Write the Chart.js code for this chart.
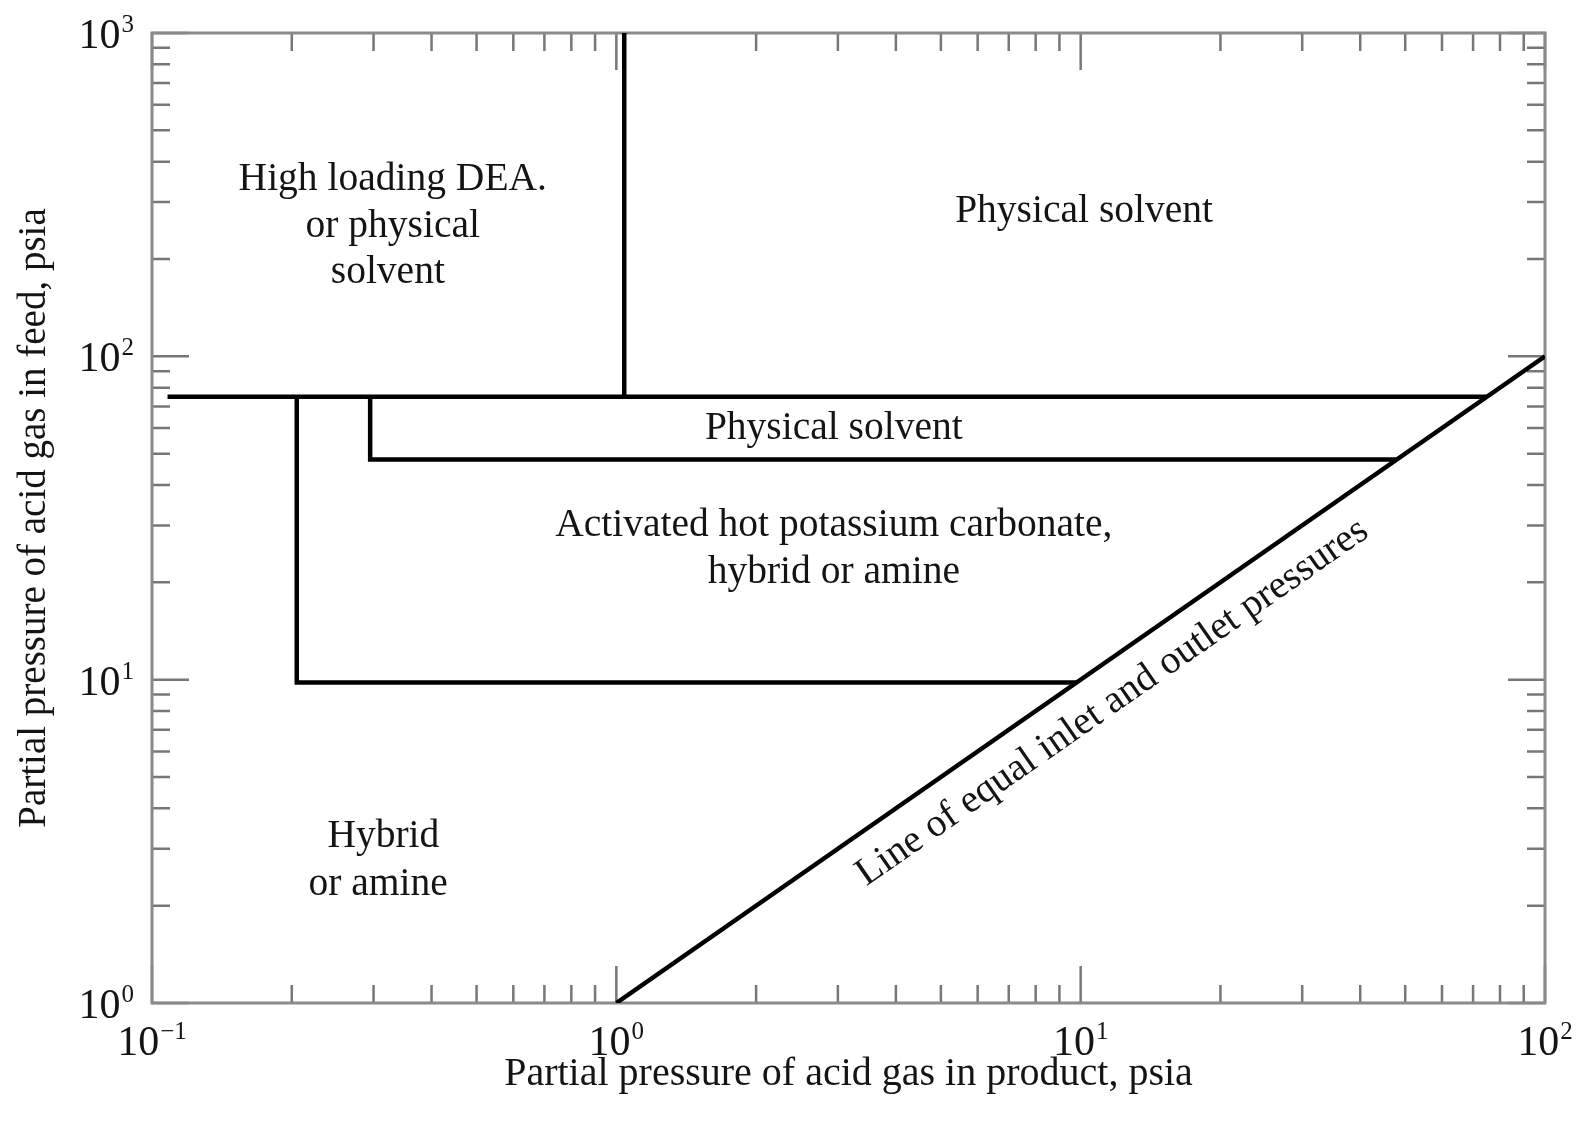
<!DOCTYPE html>
<html>
<head>
<meta charset="utf-8">
<script src="https://cdn.jsdelivr.net/npm/chart.js@4.4.1/dist/chart.umd.min.js"></script>
<style>
  html, body { margin: 0; padding: 0; background: #fff; }
  canvas { display: block; }
</style>
</head>
<body>
<canvas id="chart" width="1581" height="1121"></canvas>
<script>
// axis decades, labelled as 10^n
const xTickValues = [0.1, 1, 10, 100];
const xTickExponents = ['\u22121', '0', '1', '2'];
const yTickValues = [1, 10, 100, 1000];
const yTickExponents = ['0', '1', '2', '3'];

// region boundaries, psia (product on x, feed on y)
const upperBoundaryX = [0.108, 75];
const upperBoundaryY = [75, 75];
const dividerX = [1.04, 1.04];
const dividerY = [75, 1000];
const physicalBandX = [0.295, 0.295, 48];
const physicalBandY = [75, 48, 48];
const amineBoundaryX = [0.205, 0.205, 9.8];
const amineBoundaryY = [75, 9.8, 9.8];
const equalLineX = [1, 100];
const equalLineY = [1, 100];

// region names and where they sit (data coords)
const regionLabels = [
  'High loading DEA.', 'or physical', 'solvent',
  'Physical solvent',
  'Physical solvent',
  'Activated hot potassium carbonate,', 'hybrid or amine',
  'Hybrid', 'or amine'
];
const regionLabelX = [0.33, 0.33, 0.322, 10.17, 2.94, 2.94, 2.94, 0.315, 0.307];
const regionLabelY = [352, 251, 181, 281, 59.8, 29.9, 21.4, 3.26, 2.33];
const diagonalLabel = 'Line of equal inlet and outlet pressures';
const diagonalLabelX = 11.7;
const diagonalLabelY = 8.5;

const FONT = '"Liberation Serif", "Times New Roman", serif';
const TEXT_COLOR = '#141414';

function toPoints(xs, ys) {
  return xs.map((x, i) => ({ x: x, y: ys[i] }));
}

function boundary(xs, ys) {
  return {
    data: toPoints(xs, ys),
    showLine: true,
    borderColor: '#000',
    borderWidth: 4.5,
    pointRadius: 0,
    fill: false,
    tension: 0,
    borderJoinStyle: 'miter'
  };
}

function logSteps(minExp, maxExp) {
  const out = [];
  for (let d = minExp; d < maxExp; d++) {
    for (let k = 1; k <= 9; k++) out.push({ v: k * Math.pow(10, d), major: k === 1 });
  }
  out.push({ v: Math.pow(10, maxExp), major: true });
  return out;
}

// inward ticks on all four sides plus the grey frame
const frameTicks = {
  id: 'frameTicks',
  beforeDatasetsDraw(chart) {
    const { ctx, chartArea: a, scales } = chart;
    ctx.save();
    ctx.strokeStyle = '#777';
    ctx.lineWidth = 2.5;
    ctx.beginPath();
    logSteps(-1, 2).forEach(t => {
      const px = scales.x.getPixelForValue(t.v);
      const len = t.major ? 37 : 18;
      ctx.moveTo(px, a.bottom); ctx.lineTo(px, a.bottom - len);
      ctx.moveTo(px, a.top); ctx.lineTo(px, a.top + len);
    });
    logSteps(0, 3).forEach(t => {
      const py = scales.y.getPixelForValue(t.v);
      const len = t.major ? 37 : 18;
      ctx.moveTo(a.left, py); ctx.lineTo(a.left + len, py);
      ctx.moveTo(a.right, py); ctx.lineTo(a.right - len, py);
    });
    ctx.stroke();
    ctx.strokeStyle = '#8a8a8a';
    ctx.lineWidth = 3;
    ctx.strokeRect(a.left, a.top, a.right - a.left, a.bottom - a.top);
    ctx.restore();
  }
};

function drawPower(ctx, exp, x, y, align) {
  ctx.font = '42px ' + FONT;
  const baseW = ctx.measureText('10').width;
  ctx.font = '25px ' + FONT;
  const supW = ctx.measureText(exp).width;
  const total = baseW + 1 + supW;
  const start = align === 'center' ? x - total / 2 : x - total;
  ctx.textAlign = 'left';
  ctx.textBaseline = 'alphabetic';
  ctx.font = '42px ' + FONT;
  ctx.fillText('10', start, y + 14);
  ctx.font = '25px ' + FONT;
  ctx.fillText(exp, start + baseW + 1, y - 2);
}

const labels = {
  id: 'labels',
  afterDraw(chart) {
    const { ctx, chartArea: a, scales } = chart;
    ctx.save();
    ctx.fillStyle = TEXT_COLOR;
    xTickValues.forEach((v, i) => {
      drawPower(ctx, xTickExponents[i], scales.x.getPixelForValue(v), a.bottom + 38, 'center');
    });
    yTickValues.forEach((v, i) => {
      drawPower(ctx, yTickExponents[i], a.left - 18, scales.y.getPixelForValue(v) + 1, 'right');
    });

    ctx.font = '39.5px ' + FONT;
    ctx.textAlign = 'center';
    ctx.textBaseline = 'middle';
    regionLabels.forEach((txt, i) => {
      ctx.fillText(txt, scales.x.getPixelForValue(regionLabelX[i]), scales.y.getPixelForValue(regionLabelY[i]));
    });

    // rotate to follow the equal-pressure line
    const x0 = scales.x.getPixelForValue(equalLineX[0]);
    const y0 = scales.y.getPixelForValue(equalLineY[0]);
    const x1 = scales.x.getPixelForValue(equalLineX[1]);
    const y1 = scales.y.getPixelForValue(equalLineY[1]);
    ctx.translate(scales.x.getPixelForValue(diagonalLabelX), scales.y.getPixelForValue(diagonalLabelY));
    ctx.rotate(Math.atan2(y1 - y0, x1 - x0));
    ctx.fillText(diagonalLabel, 0, 0);
    ctx.restore();
  }
};

new Chart(document.getElementById('chart'), {
  type: 'scatter',
  data: {
    datasets: [
      boundary(upperBoundaryX, upperBoundaryY),
      boundary(dividerX, dividerY),
      boundary(physicalBandX, physicalBandY),
      boundary(amineBoundaryX, amineBoundaryY),
      boundary(equalLineX, equalLineY)
    ]
  },
  options: {
    responsive: false,
    animation: false,
    layout: { padding: { top: 33, right: 36, left: 0, bottom: 0 } },
    plugins: { legend: { display: false }, tooltip: { enabled: false } },
    scales: {
      x: {
        type: 'logarithmic',
        min: 0.1,
        max: 100,
        ticks: { display: false },
        grid: { display: false },
        border: { display: false },
        title: {
          display: true,
          text: 'Partial pressure of acid gas in product, psia',
          color: TEXT_COLOR,
          font: { family: FONT, size: 40 },
          padding: { top: 4, bottom: 23 }
        },
        afterFit(scale) { scale.height = 118; }
      },
      y: {
        type: 'logarithmic',
        min: 1,
        max: 1000,
        ticks: { display: false },
        grid: { display: false },
        border: { display: false },
        title: {
          display: true,
          text: 'Partial pressure of acid gas in feed, psia',
          color: TEXT_COLOR,
          font: { family: FONT, size: 39 },
          padding: { top: 11, bottom: 4 }
        },
        afterFit(scale) { scale.width = 152; }
      }
    }
  },
  plugins: [frameTicks, labels]
});
</script>
</body>
</html>
